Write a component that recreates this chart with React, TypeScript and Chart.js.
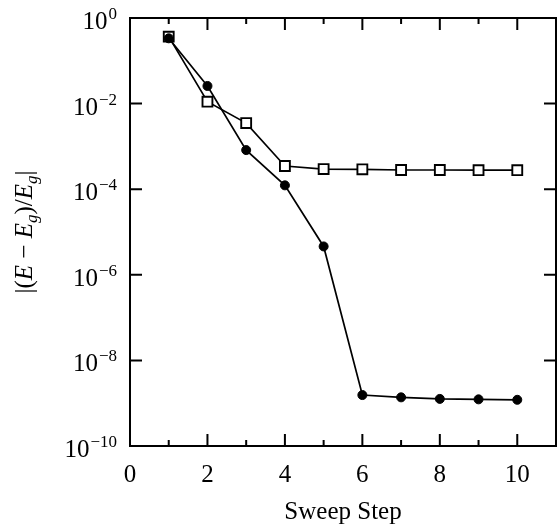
import React, { useEffect, useRef } from "react";
import { Chart, registerables } from "chart.js";
Chart.register(...registerables);

const steps = [1, 2, 3, 4, 5, 6, 7, 8, 9, 10];
const circleErr = [0.335, 0.0258, 8.2e-4, 1.23e-4, 4.6e-6, 1.55e-9, 1.37e-9, 1.26e-9, 1.23e-9, 1.2e-9];
const squareErr = [0.366, 0.0111, 3.5e-3, 3.48e-4, 2.96e-4, 2.92e-4, 2.81e-4, 2.81e-4, 2.78e-4, 2.78e-4];
const xTicks = [0, 2, 4, 6, 8, 10];
const xMinorTicks = [1, 3, 5, 7, 9];
const yTickExps = [0, -2, -4, -6, -8, -10];
const xTitle = "Sweep Step";

const FONT = '"Liberation Serif", "DejaVu Serif", serif';

const framePlugin = {
  id: "frame",
  afterDraw(chart: any) {
    const { ctx, chartArea: a, scales } = chart;
    const xs = scales.x;
    const ys = scales.y;
    ctx.save();
    ctx.strokeStyle = "#000";
    ctx.lineWidth = 2;
    ctx.strokeRect(a.left, a.top, a.right - a.left, a.bottom - a.top);
    ctx.beginPath();
    for (const v of xTicks) {
      const px = xs.getPixelForValue(v);
      ctx.moveTo(px, a.bottom); ctx.lineTo(px, a.bottom - 12);
      ctx.moveTo(px, a.top); ctx.lineTo(px, a.top + 12);
    }
    for (const v of xMinorTicks) {
      const px = xs.getPixelForValue(v);
      ctx.moveTo(px, a.bottom); ctx.lineTo(px, a.bottom - 6);
      ctx.moveTo(px, a.top); ctx.lineTo(px, a.top + 6);
    }
    for (const e of yTickExps) {
      const py = ys.getPixelForValue(Math.pow(10, e));
      ctx.moveTo(a.left, py); ctx.lineTo(a.left + 12, py);
      ctx.moveTo(a.right, py); ctx.lineTo(a.right - 12, py);
    }
    ctx.stroke();

    ctx.fillStyle = "#000";
    ctx.textBaseline = "alphabetic";
    // x labels
    ctx.font = `25px ${FONT}`;
    ctx.textAlign = "center";
    for (const v of xTicks) {
      ctx.fillText(String(v), xs.getPixelForValue(v), a.bottom + 36);
    }
    // y labels
    ctx.textAlign = "left";
    const rightEdge = a.left - 13;
    for (const e of yTickExps) {
      const py = ys.getPixelForValue(Math.pow(10, e));
      const sup = String(e).replace("-", "\u2212");
      ctx.font = `17px ${FONT}`;
      const supW = ctx.measureText(sup).width;
      ctx.font = `25px ${FONT}`;
      const baseW = ctx.measureText("10").width;
      const x0 = rightEdge - supW - baseW - 1;
      ctx.fillText("10", x0, py + 11);
      ctx.font = `17px ${FONT}`;
      ctx.fillText(sup, x0 + baseW + 1, py + 1);
    }
    // x title
    ctx.font = `25px ${FONT}`;
    ctx.textAlign = "center";
    ctx.fillText(xTitle, (a.left + a.right) / 2, a.bottom + 73);

    // y title
    const segs = [
      { t: "|(", it: false, sub: false },
      { t: "E", it: true, sub: false },
      { t: " \u2212 ", it: false, sub: false },
      { t: "E", it: true, sub: false },
      { t: "g", it: true, sub: true },
      { t: ")/", it: false, sub: false },
      { t: "E", it: true, sub: false },
      { t: "g", it: true, sub: true },
      { t: "|", it: false, sub: false },
    ];
    const fontFor = (s: any) => `${s.it ? "italic " : ""}${s.sub ? 17 : 25}px ${FONT}`;
    let total = 0;
    const widths = segs.map((s) => {
      ctx.font = fontFor(s);
      const w = ctx.measureText(s.t).width;
      total += w;
      return w;
    });
    ctx.translate(32, (a.top + a.bottom) / 2);
    ctx.rotate(-Math.PI / 2);
    ctx.textAlign = "left";
    let cx = -total / 2;
    segs.forEach((s, i) => {
      ctx.font = fontFor(s);
      ctx.fillText(s.t, cx, s.sub ? 5 : 0);
      cx += widths[i];
    });
    ctx.restore();
  },
};

export default function App() {
  const ref = useRef<HTMLCanvasElement>(null);
  useEffect(() => {
    if (!ref.current) return;
    const chart = new Chart(ref.current, {
      type: "line",
      data: {
        datasets: [
          {
            data: steps.map((s, i) => ({ x: s, y: circleErr[i] })),
            borderColor: "#000",
            backgroundColor: "#000",
            borderWidth: 1.7,
            pointStyle: "circle",
            pointRadius: 4.5,
            pointBorderWidth: 1,
            pointBackgroundColor: "#000",
            pointBorderColor: "#000",
            tension: 0,
          },
          {
            data: steps.map((s, i) => ({ x: s, y: squareErr[i] })),
            borderColor: "#000",
            backgroundColor: "#fff",
            borderWidth: 1.7,
            pointStyle: "rect",
            pointRadius: 7,
            pointBorderWidth: 1.9,
            pointBackgroundColor: "#fff",
            pointBorderColor: "#000",
            tension: 0,
          },
        ],
      },
      options: {
        responsive: false,
        animation: false,
        layout: { autoPadding: false, padding: { left: 130, right: 1, top: 18, bottom: 79 } },
        plugins: { legend: { display: false }, tooltip: { enabled: false } },
        scales: {
          x: { type: "linear", min: 0, max: 11, display: false },
          y: { type: "logarithmic", min: 1e-10, max: 1, display: false },
        },
      },
      plugins: [framePlugin],
    });
    return () => chart.destroy();
  }, []);
  return (
    <div style={{ position: "fixed", left: 0, top: 0, width: 557, height: 525, background: "#fff" }}>
      <canvas ref={ref} width={557} height={525} style={{ width: 557, height: 525 }} />
    </div>
  );
}
